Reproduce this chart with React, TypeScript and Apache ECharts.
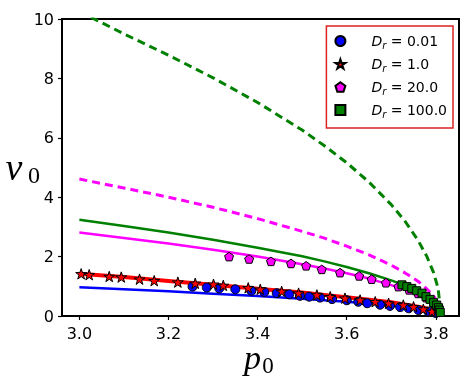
import React, { useEffect, useRef } from "react";
import * as echarts from "echarts";

// curve sample positions (p0) and the read-off v0 values of each curve
const pGrid = [3.0, 3.1, 3.2, 3.3, 3.4, 3.5, 3.55, 3.6, 3.65, 3.7, 3.73, 3.76, 3.78, 3.795, 3.805, 3.812];
const vGreenDashed = [10.25, 9.5, 8.78, 8.02, 7.19, 6.26, 5.73, 5.16, 4.51, 3.75, 3.21, 2.55, 2.0, 1.46, 0.94, 0];
const vMagentaDashed = [4.61, 4.31, 4.0, 3.66, 3.28, 2.85, 2.62, 2.35, 2.06, 1.71, 1.46, 1.17, 0.91, 0.67, 0.43, 0];
const vGreenSolid = [3.24, 3.03, 2.81, 2.57, 2.3, 2.01, 1.84, 1.65, 1.44, 1.2, 1.03, 0.82, 0.64, 0.47, 0.3, 0];
const vMagentaSolid = [2.81, 2.63, 2.44, 2.23, 2.0, 1.74, 1.6, 1.44, 1.26, 1.04, 0.89, 0.71, 0.56, 0.41, 0.26, 0];
const vRedSolid = [1.42, 1.31, 1.18, 1.05, 0.92, 0.79, 0.71, 0.63, 0.55, 0.46, 0.39, 0.31, 0.25, 0.18, 0.11, 0];
const vBlueSolid = [0.97, 0.9, 0.83, 0.75, 0.67, 0.58, 0.53, 0.48, 0.42, 0.35, 0.3, 0.24, 0.19, 0.14, 0.09, 0];

// simulation markers
const pCircles = [3.254, 3.286, 3.314, 3.35, 3.386, 3.415, 3.443, 3.471, 3.495, 3.516, 3.54, 3.567, 3.6, 3.626, 3.646, 3.675, 3.697, 3.72, 3.739, 3.761, 3.783, 3.8];
const vCircles = [0.99, 0.96, 0.93, 0.9, 0.85, 0.81, 0.77, 0.73, 0.68, 0.65, 0.62, 0.57, 0.53, 0.48, 0.43, 0.38, 0.34, 0.3, 0.26, 0.2, 0.15, 0.1];
const pStars = [3.004, 3.022, 3.067, 3.094, 3.135, 3.168, 3.221, 3.26, 3.301, 3.323, 3.379, 3.406, 3.454, 3.492, 3.533, 3.563, 3.596, 3.63, 3.664, 3.694, 3.727, 3.75, 3.772, 3.791];
const vStars = [1.42, 1.39, 1.33, 1.31, 1.24, 1.19, 1.14, 1.1, 1.07, 1.03, 0.95, 0.9, 0.83, 0.77, 0.71, 0.65, 0.6, 0.54, 0.48, 0.43, 0.37, 0.31, 0.23, 0.15];
const pPentagons = [3.336, 3.381, 3.43, 3.475, 3.509, 3.544, 3.585, 3.628, 3.656, 3.688, 3.716, 3.74, 3.76, 3.778, 3.795];
const vPentagons = [2.0, 1.92, 1.84, 1.77, 1.69, 1.57, 1.46, 1.35, 1.24, 1.12, 0.99, 0.88, 0.76, 0.62, 0.45];
const pSquares = [3.724, 3.735, 3.746, 3.757, 3.769, 3.778, 3.787, 3.795, 3.802, 3.806, 3.808, 3.81];
const vSquares = [1.05, 0.99, 0.93, 0.85, 0.77, 0.65, 0.56, 0.45, 0.37, 0.28, 0.2, 0.12];

const legendValues = ["0.01", "1.0", "20.0", "100.0"];
const xTicks = [3.0, 3.2, 3.4, 3.6, 3.8];

const STAR = "path://M0,-1L0.2245,-0.309L0.951,-0.309L0.363,0.118L0.588,0.809L0,0.382L-0.588,0.809L-0.363,0.118L-0.951,-0.309L-0.2245,-0.309Z";
const PENT = "path://M0,-1L0.951,-0.309L0.588,0.809L-0.588,0.809L-0.951,-0.309Z";

const zip = (xs: number[], ys: number[]) => xs.map((x, i) => [x, ys[i]]);

export default function App() {
  const ref = useRef<HTMLDivElement>(null);
  useEffect(() => {
    if (!ref.current) return;
    const chart = echarts.init(ref.current, null, { renderer: "svg" });
    const names = legendValues.map((v) => "D_r = " + v);
    const line = (data: number[], color: string, width: number, dashed: boolean) => ({
      type: "line",
      data: zip(pGrid, data),
      symbol: "none",
      showSymbol: false,
      silent: true,
      clip: true,
      z: 2,
      lineStyle: dashed ? { color, width, type: [8, 5] } : { color, width },
    });
    const scatter = (name: string, xs: number[], ys: number[], symbol: string, size: number, color: string, z: number) => ({
      type: "scatter",
      name,
      data: zip(xs, ys),
      symbol,
      symbolSize: size,
      symbolKeepAspect: true,
      z,
      itemStyle: { color, borderColor: "#000", borderWidth: 1, opacity: 1 },
    });
    chart.setOption({
      animation: false,
      grid: { left: 62, right: 10, top: 19, bottom: 64, show: true, borderColor: "#000", borderWidth: 2, containLabel: false },
      xAxis: {
        type: "value",
        min: 2.961,
        max: 3.852,
        axisLine: { show: true, lineStyle: { color: "#000", width: 2 } },
        axisTick: { show: true, inside: false, length: 4, customValues: xTicks, lineStyle: { color: "#000", width: 1.2 } },
        axisLabel: { customValues: xTicks, formatter: (v: number) => v.toFixed(1), fontFamily: "DejaVu Sans", fontSize: 16, lineHeight: 14, color: "#000", margin: 10 },
        splitLine: { show: false },
      },
      yAxis: {
        type: "value",
        min: 0,
        max: 10,
        interval: 2,
        axisLine: { show: true, lineStyle: { color: "#000", width: 2 } },
        axisTick: { show: true, inside: false, length: 4, lineStyle: { color: "#000", width: 1.2 } },
        axisLabel: { fontFamily: "DejaVu Sans", fontSize: 16, color: "#000", margin: 8 },
        splitLine: { show: false },
      },
      legend: {
        data: names,
        orient: "vertical",
        right: 16,
        top: 26,
        padding: [8, 6, 9, 8],
        itemGap: 7,
        itemWidth: 10,
        itemHeight: 10,
        backgroundColor: "#fff",
        borderColor: "#dd2222",
        borderWidth: 1.5,
        borderRadius: 0,
        formatter: (name: string) => "{g|}{d|D}{s|r}{t| = " + name.split("= ")[1] + "}",
        textStyle: {
          color: "#000",
          rich: {
            g: { width: 21 },
            d: { fontFamily: "DejaVu Sans", fontStyle: "italic", fontSize: 14, lineHeight: 18, color: "#000" },
            s: { fontFamily: "DejaVu Sans", fontStyle: "italic", fontSize: 10, lineHeight: 10, verticalAlign: "bottom", color: "#000" },
            t: { fontFamily: "DejaVu Sans", fontSize: 14, lineHeight: 18, color: "#000" },
          },
        },
      },
      graphic: [
        { type: "text", x: 14, y: 167, style: { text: "v", font: 'italic 38px "Liberation Serif"', lineHeight: 26, fill: "#000", textAlign: "center", textVerticalAlign: "middle" } },
        { type: "text", x: 34, y: 174.5, style: { text: "0", font: '24px "Liberation Serif"', lineHeight: 18, fill: "#000", textAlign: "center", textVerticalAlign: "middle" } },
        { type: "text", x: 252.5, y: 357, style: { text: "p", font: 'italic 34px "Liberation Serif"', lineHeight: 22, fill: "#000", textAlign: "center", textVerticalAlign: "middle" } },
        { type: "text", x: 268, y: 365, style: { text: "0", font: '23px "Liberation Serif"', lineHeight: 16, fill: "#000", textAlign: "center", textVerticalAlign: "middle" } },
      ],
      series: [
        line(vGreenDashed, "#008000", 3, true),
        line(vMagentaDashed, "#ff00ff", 3, true),
        line(vGreenSolid, "#008000", 2.5, false),
        line(vMagentaSolid, "#ff00ff", 2.5, false),
        line(vBlueSolid, "#0000ff", 2.5, false),
        line(vRedSolid, "#ff0000", 4, false),
        scatter(names[0], pCircles, vCircles, "circle", 9, "#0000ff", 3),
        scatter(names[1], pStars, vStars, STAR, 11, "#ff0000", 4),
        scatter(names[2], pPentagons, vPentagons, PENT, 9, "#ff00ff", 5),
        scatter(names[3], pSquares, vSquares, "rect", 8, "#008000", 6),
      ],
    });
    return () => chart.dispose();
  }, []);
  return <div ref={ref} style={{ position: "fixed", left: 0, top: 0, width: 469, height: 380 }} />;
}
